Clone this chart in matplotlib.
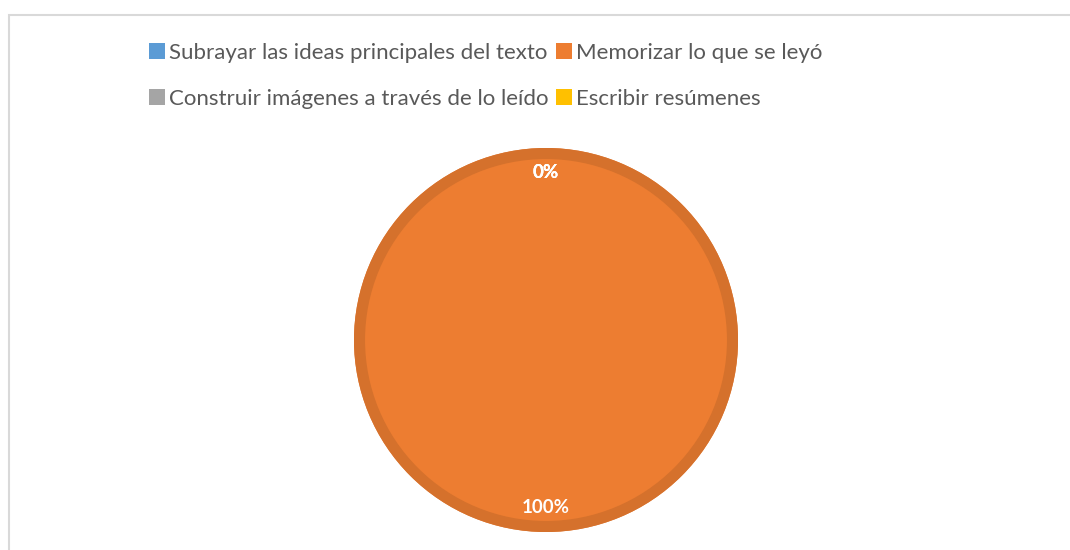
import matplotlib.pyplot as plt
from matplotlib.patches import Rectangle, Patch, Circle
import numpy as np

categories = ["Subrayar las ideas principales del texto", "Memorizar lo que se leyó",
              "Construir imágenes a través de lo leído", "Escribir resúmenes"]
values = [0, 100, 0, 0]
colors = ["#5B9BD5", "#ED7D31", "#A5A5A5", "#FFC000"]
pct_labels = ["0%", "100%", "0%", "0%"]

plt.rcParams['font.family'] = ['Lato', 'DejaVu Sans']

fig = plt.figure(figsize=(10.7, 5.5), dpi=100)
fig.patches.append(Rectangle((9/1070, -0.1), 1.2, 1 - 15/550 + 0.1, transform=fig.transFigure,
                             fill=False, edgecolor="#D9D9D9", linewidth=1.5))

# pie center (546, 340), radius ~192 px
r = 192
cx, cy = 546, 340
ax = fig.add_axes([(cx - r) / 1070, (550 - cy - r) / 550, 2 * r / 1070, 2 * r / 550])
wedges, _ = ax.pie(values, colors=colors, startangle=90, counterclock=False,
                   wedgeprops=dict(linewidth=0))
ax.set_xlim(-1, 1)
ax.set_ylim(-1, 1)
ax.set_aspect('auto')
ax.add_patch(Circle((0, 0), 1 - 5.5 / r, fill=False, edgecolor="#D5712C", linewidth=8))

total = sum(values)
start = 90
for v, lab in zip(values, pct_labels):
    ang = start - 360 * v / total / 2
    d = 0.87
    ax.text(d * np.cos(np.radians(ang)), d * np.sin(np.radians(ang)), lab,
            ha='center', va='center', color='white', fontsize=13.5, fontweight='bold')
    start -= 360 * v / total
ax.axis('off')

order = [0, 2, 1, 3]
handles = [Patch(facecolor=colors[i], edgecolor='none') for i in order]
labels = [categories[i] for i in order]
leg = fig.legend(handles, labels, ncol=2, loc='upper left',
                 bbox_to_anchor=(129 / 1070, 1 - 23 / 550), frameon=False,
                 fontsize=16, handlelength=0.72, handleheight=0.72, handletextpad=0.2,
                 columnspacing=0.3, labelspacing=1.15, labelcolor="#595959")
fig.savefig("out.png", dpi=100, facecolor='white')
